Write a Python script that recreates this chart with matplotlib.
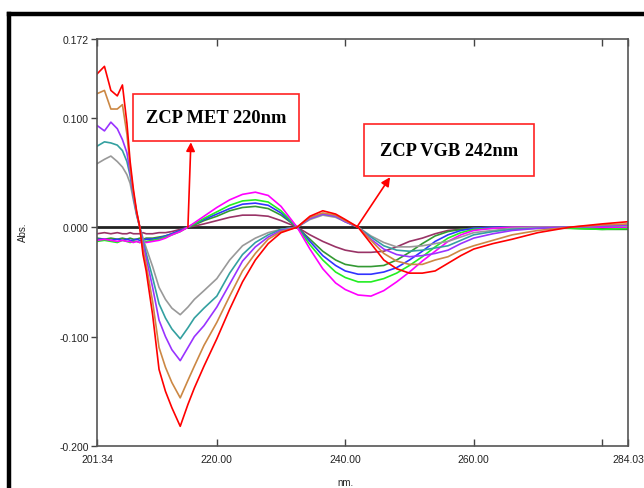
import matplotlib
matplotlib.use("Agg")
import matplotlib.pyplot as plt
from matplotlib.lines import Line2D
from matplotlib.patches import Rectangle

# ---------------- data ----------------
wavelength = [201.34, 202.5, 203.5, 204.5, 205.3, 206, 206.5, 207, 207.5, 208, 208.5, 209,
              210, 211, 212, 213, 214.3, 215.5, 216.5, 218, 220, 222, 224, 226, 228, 230,
              232.5, 234.5, 236.5, 238.5, 240, 242, 244, 246, 248, 250, 252, 254, 256, 258,
              260, 263, 266, 270, 275, 280, 284.03]

met_red = [0.140, 0.147, 0.125, 0.120, 0.130, 0.095, 0.060, 0.035, 0.015, 0.000, -0.025, -0.040,
           -0.080, -0.130, -0.150, -0.165, -0.182, -0.162, -0.147, -0.127, -0.102, -0.075, -0.050, -0.030, -0.015, -0.005,
           0.000, 0.010, 0.015, 0.012, 0.007, 0.000, -0.015, -0.030, -0.038, -0.042, -0.042, -0.040, -0.033, -0.026,
           -0.020, -0.015, -0.011, -0.005, 0.000, 0.003, 0.005]
met_tan = [0.122, 0.125, 0.108, 0.108, 0.112, 0.085, 0.055, 0.032, 0.014, 0.000, -0.020, -0.034,
           -0.068, -0.110, -0.128, -0.142, -0.156, -0.140, -0.127, -0.108, -0.087, -0.063, -0.040, -0.024, -0.011, -0.004,
           0.000, 0.009, 0.013, 0.011, 0.006, 0.000, -0.012, -0.024, -0.031, -0.034, -0.034, -0.030, -0.027, -0.021,
           -0.017, -0.012, -0.007, -0.003, 0.000, 0.002, 0.003]
met_purple = [0.093, 0.088, 0.096, 0.090, 0.080, 0.068, 0.050, 0.030, 0.013, 0.000, -0.015, -0.028,
              -0.055, -0.085, -0.100, -0.112, -0.122, -0.110, -0.100, -0.090, -0.073, -0.052, -0.031, -0.018, -0.009, -0.003,
              0.000, 0.008, 0.012, 0.010, 0.005, 0.000, -0.011, -0.020, -0.025, -0.027, -0.026, -0.024, -0.021, -0.015,
              -0.010, -0.006, -0.003, -0.001, 0.000, 0.001, 0.002]
met_teal = [0.074, 0.078, 0.077, 0.075, 0.070, 0.060, 0.047, 0.028, 0.012, 0.000, -0.012, -0.024,
            -0.046, -0.070, -0.083, -0.093, -0.102, -0.092, -0.083, -0.074, -0.063, -0.042, -0.025, -0.014, -0.007, -0.002,
            0.000, 0.008, 0.012, 0.010, 0.005, 0.000, -0.009, -0.017, -0.021, -0.022, -0.021, -0.019, -0.017, -0.012,
            -0.007, -0.004, -0.002, -0.001, 0.000, 0.001, 0.002]
met_gray = [0.058, 0.062, 0.065, 0.060, 0.055, 0.048, 0.040, 0.025, 0.011, 0.000, -0.010, -0.019,
            -0.036, -0.055, -0.066, -0.074, -0.080, -0.073, -0.066, -0.058, -0.047, -0.030, -0.017, -0.010, -0.005, -0.002,
            0.000, 0.007, 0.011, 0.009, 0.005, 0.000, -0.008, -0.014, -0.018, -0.018, -0.017, -0.015, -0.013, -0.009,
            -0.005, -0.003, -0.001, 0.000, 0.000, 0.001, 0.001]

vgb_magenta = [-0.012, -0.011, -0.012, -0.013, -0.012, -0.013, -0.013, -0.014, -0.013, -0.014, -0.013, -0.014,
               -0.013, -0.012, -0.010, -0.007, -0.004, 0.000, 0.004, 0.010, 0.018, 0.025, 0.030, 0.032, 0.029, 0.019,
               0.000, -0.020, -0.038, -0.051, -0.057, -0.062, -0.063, -0.058, -0.050, -0.041, -0.031, -0.022, -0.013, -0.007,
               -0.003, -0.001, 0.000, 0.000, 0.000, 0.000, 0.000]
vgb_green = [-0.013, -0.012, -0.013, -0.014, -0.012, -0.013, -0.014, -0.013, -0.013, -0.014, -0.013, -0.013,
             -0.012, -0.011, -0.009, -0.007, -0.004, 0.000, 0.003, 0.008, 0.014, 0.020, 0.024, 0.025, 0.023, 0.015,
             0.000, -0.016, -0.030, -0.041, -0.046, -0.050, -0.050, -0.047, -0.042, -0.035, -0.027, -0.018, -0.010, -0.005,
             -0.002, -0.001, 0.000, 0.000, -0.001, -0.002, -0.001]
vgb_blue = [-0.011, -0.011, -0.012, -0.011, -0.012, -0.011, -0.012, -0.012, -0.011, -0.012, -0.012, -0.011,
            -0.011, -0.010, -0.008, -0.006, -0.003, 0.000, 0.003, 0.007, 0.012, 0.017, 0.021, 0.022, 0.020, 0.013,
            0.000, -0.013, -0.026, -0.035, -0.040, -0.043, -0.043, -0.041, -0.037, -0.030, -0.022, -0.013, -0.007, -0.003,
            -0.001, 0.000, 0.000, 0.000, 0.000, 0.000, 0.000]
vgb_darkgreen = [-0.010, -0.011, -0.010, -0.011, -0.010, -0.011, -0.010, -0.011, -0.011, -0.010, -0.011, -0.010,
                 -0.010, -0.009, -0.008, -0.006, -0.003, 0.000, 0.002, 0.006, 0.010, 0.015, 0.018, 0.019, 0.017, 0.011,
                 0.000, -0.011, -0.022, -0.030, -0.034, -0.036, -0.036, -0.035, -0.030, -0.023, -0.015, -0.008, -0.004, -0.002,
                 -0.001, 0.000, 0.000, -0.001, -0.001, -0.002, -0.002]
vgb_maroon = [-0.006, -0.005, -0.006, -0.005, -0.006, -0.006, -0.005, -0.006, -0.006, -0.006, -0.005, -0.006,
              -0.006, -0.005, -0.005, -0.004, -0.002, 0.000, 0.001, 0.003, 0.006, 0.009, 0.011, 0.011, 0.010, 0.006,
              0.000, -0.007, -0.013, -0.018, -0.021, -0.023, -0.023, -0.022, -0.018, -0.013, -0.010, -0.006, -0.003, -0.002,
              -0.001, 0.000, 0.000, 0.000, 0.000, 0.000, 0.000]

series = [
    (vgb_maroon, "#993366"),
    (vgb_darkgreen, "#339933"),
    (vgb_blue, "#3333ff"),
    (vgb_green, "#22ee22"),
    (vgb_magenta, "#ff00ff"),
    (met_gray, "#999999"),
    (met_teal, "#33a0a0"),
    (met_purple, "#9933ff"),
    (met_tan, "#cc8844"),
    (met_red, "#ff0000"),
]

xtick_values = [201.34, 220.0, 240.0, 260.0, 280.0, 284.03]
xtick_labels = ["201.34", "220.00", "240.00", "260.00", "", "284.03"]
ytick_values = [0.172, 0.100, 0.000, -0.100, -0.200]
ytick_labels = ["0.172", "0.100", "0.000", "-0.100", "-0.200"]

met_zcp = 215.5
vgb_zcp = 241.8

# ---------------- figure ----------------
W, H = 644, 489
fig = plt.figure(figsize=(W / 100, H / 100), dpi=100)
ax = fig.add_axes([97 / W, (H - 447) / H, 531 / W, 407 / H])

ax.axhline(0, color="#222222", lw=2.0, zorder=1)
for vals, col in series:
    ax.plot(wavelength, vals, color=col, lw=1.2, zorder=2)

ax.set_xlim(201.34, 284.03)
ax.set_ylim(-0.200, 0.172)

ax.set_xticks(xtick_values)
ax.set_xticklabels(xtick_labels)
ax.set_yticks(ytick_values)
ax.set_yticklabels(ytick_labels)

for lab in ax.get_xticklabels() + ax.get_yticklabels():
    lab.set_fontfamily("Liberation Sans")
    lab.set_fontsize(7.5)
    lab.set_color("#222222")

ax.tick_params(axis="x", direction="in", length=5, top=True, bottom=True,
               width=1.0, color="#444444", pad=6)
ax.tick_params(axis="y", direction="out", length=4, left=True, right=False,
               width=1.0, color="#444444", pad=2)
for sp in ax.spines.values():
    sp.set_color("#555555")
    sp.set_linewidth(1.2)

fig.text(23 / W, 1 - 232 / H, "Abs.", rotation=90, ha="center", va="center",
         fontsize=7, family="Liberation Sans", color="#222222")
fig.text(345 / W, 1 - 483 / H, "nm.", ha="center", va="center",
         fontsize=7, family="Liberation Sans", color="#222222")

# annotation boxes
def box(x0, x1, y0, y1, text):
    r = Rectangle((x0, y0), x1 - x0, y1 - y0, transform=ax.transAxes,
                  facecolor="white", edgecolor="#ff2222", lw=1.2, zorder=5)
    ax.add_patch(r)
    ax.text((x0 + x1) / 2, (y0 + y1) / 2, text, transform=ax.transAxes,
            ha="center", va="center", fontsize=13.3, fontweight="bold",
            family="Liberation Serif", color="black", zorder=6)

box(0.0678, 0.380, 0.749, 0.865, "ZCP MET 220nm")
box(0.503, 0.823, 0.663, 0.791, "ZCP VGB 242nm")

arrow = dict(arrowstyle="-|>", color="#ff0000", lw=1.2, mutation_scale=13,
             shrinkA=0, shrinkB=0)
ax.annotate("", xy=(215.96, 0.0776), xytext=(met_zcp, 0.0), arrowprops=arrow, zorder=7)
ax.annotate("", xy=(246.98, 0.0457), xytext=(vgb_zcp, 0.0), arrowprops=arrow, zorder=7)

# outer black frame (partially visible)
fig.add_artist(Line2D([9 / W, 9 / W], [0, 1 - 15 / H], color="black", lw=3.2,
                      transform=fig.transFigure, solid_capstyle="projecting"))
fig.add_artist(Line2D([9 / W, 1.0], [1 - 15 / H, 1 - 15 / H], color="black", lw=3.2,
                      transform=fig.transFigure, solid_capstyle="projecting"))

fig.savefig("out.png", dpi=100)
